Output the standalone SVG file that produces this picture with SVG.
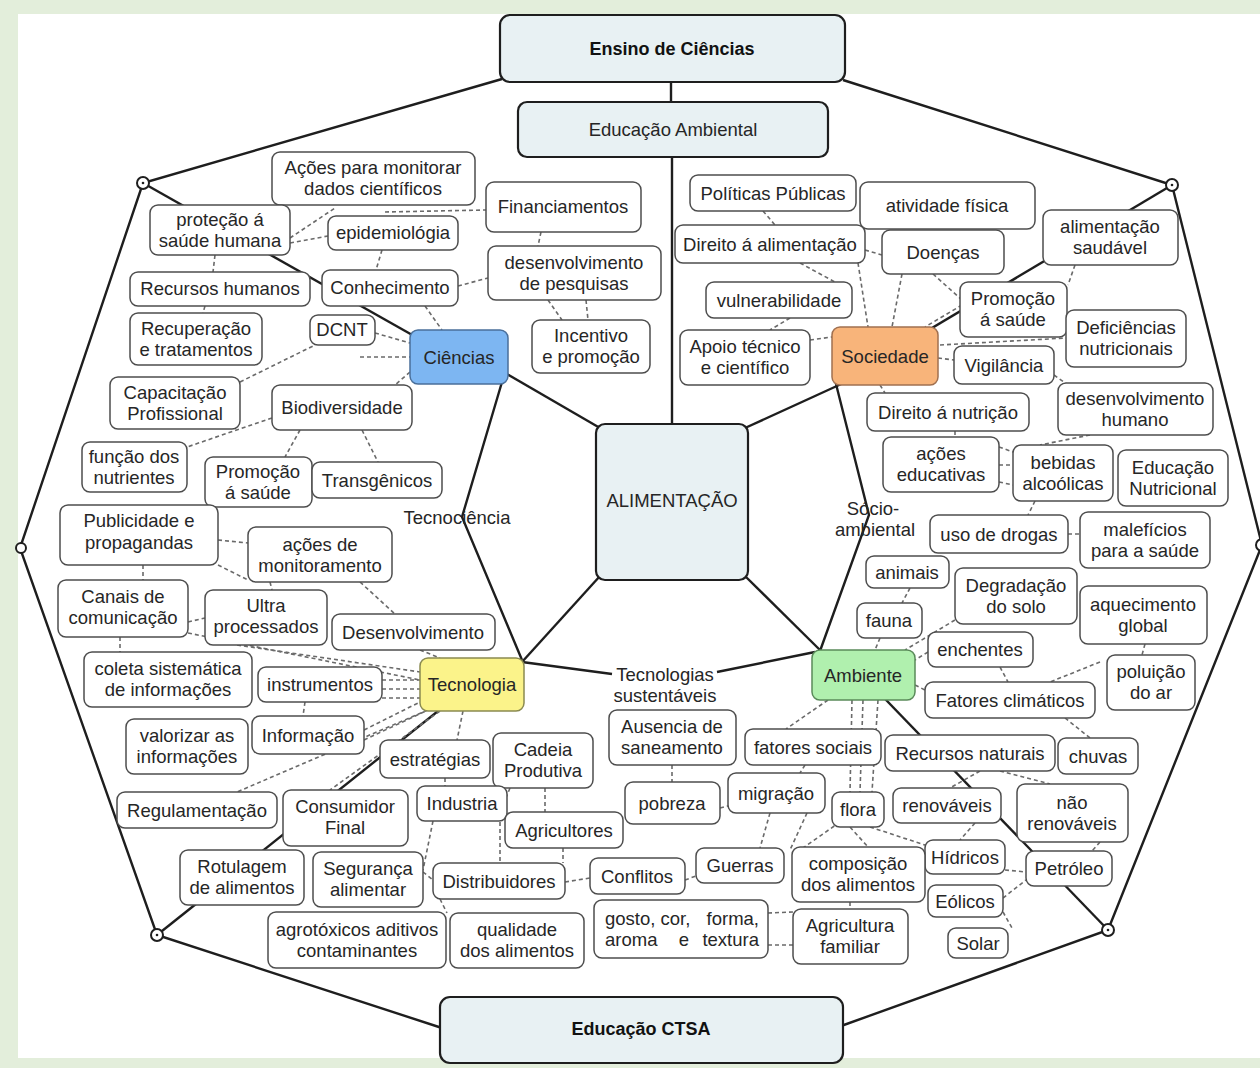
<svg xmlns="http://www.w3.org/2000/svg" width="1260" height="1068" viewBox="0 0 1260 1068">
<style>
.s{stroke:#1e1e1e;stroke-width:2.4;fill:none}
.d{stroke:#6a6a6a;stroke-width:1.6;stroke-dasharray:4 3;fill:none}
.n rect{fill:#fff;stroke:#4d4d4d;stroke-width:1.5}
.h rect{fill:#e8f1f3;stroke:#1e1e1e;stroke-width:2.2}
text{font-family:"Liberation Sans",Arial,sans-serif;font-size:18.5px;fill:#262626;text-anchor:middle}
.bold{font-weight:bold;font-size:18px;fill:#111}
.c{fill:#fff;stroke:#1e1e1e;stroke-width:2}
.st{text-anchor:start}
.en{text-anchor:end}
</style>
<rect x="0" y="0" width="1260" height="1068" fill="#e3eedb"/>
<rect x="18" y="14" width="1242" height="1044" fill="#fff"/>

<g id="connectors">
<polyline class="s" points="502,79 143,183 20,548 157,935 442,1028"/>
<polyline class="s" points="843,80 1172,185 1262,545 1108,930 841,1026"/>
<line class="s" x1="143" y1="183" x2="430" y2="345"/>
<line class="s" x1="1172" y1="185" x2="885" y2="356"/>
<line class="s" x1="157" y1="935" x2="472" y2="684"/>
<line class="s" x1="1108" y1="930" x2="862" y2="675"/>
<line class="s" x1="671" y1="82" x2="671" y2="102"/>
<line class="s" x1="672" y1="157" x2="672" y2="424"/>
<line class="s" x1="500" y1="370" x2="600" y2="428"/>
<line class="s" x1="850" y1="380" x2="745" y2="428"/>
<line class="s" x1="522" y1="662" x2="600" y2="576"/>
<line class="s" x1="822" y1="652" x2="745" y2="576"/>
<polyline class="s" points="502,382 462,517 522,660"/>
<polyline class="s" points="836,384 869,515 820,651"/>
<line class="s" x1="522" y1="662" x2="612" y2="674"/>
<line class="s" x1="717" y1="672" x2="815" y2="652"/>
<line class="d" x1="290" y1="238" x2="335" y2="208"/>
<line class="d" x1="290" y1="243" x2="328" y2="236"/>
<line class="d" x1="385" y1="212" x2="486" y2="210"/>
<line class="d" x1="382" y1="250" x2="376" y2="270"/>
<line class="d" x1="215" y1="255" x2="213" y2="272"/>
<line class="d" x1="205" y1="306" x2="203" y2="313"/>
<line class="d" x1="458" y1="286" x2="488" y2="278"/>
<line class="d" x1="541" y1="232" x2="538" y2="246"/>
<line class="d" x1="548" y1="300" x2="562" y2="320"/>
<line class="d" x1="586" y1="300" x2="588" y2="320"/>
<line class="d" x1="425" y1="306" x2="442" y2="330"/>
<line class="d" x1="375" y1="333" x2="410" y2="343"/>
<line class="d" x1="240" y1="382" x2="315" y2="345"/>
<line class="d" x1="360" y1="357" x2="410" y2="357"/>
<line class="d" x1="410" y1="372" x2="395" y2="385"/>
<line class="d" x1="272" y1="418" x2="187" y2="447"/>
<line class="d" x1="300" y1="430" x2="285" y2="457"/>
<line class="d" x1="362" y1="430" x2="378" y2="462"/>
<line class="d" x1="218" y1="540" x2="248" y2="543"/>
<line class="d" x1="218" y1="565" x2="248" y2="580"/>
<line class="d" x1="270" y1="582" x2="272" y2="590"/>
<line class="d" x1="360" y1="582" x2="395" y2="614"/>
<line class="d" x1="143" y1="565" x2="143" y2="580"/>
<line class="d" x1="188" y1="622" x2="205" y2="618"/>
<line class="d" x1="188" y1="633" x2="420" y2="680"/>
<line class="d" x1="237" y1="645" x2="420" y2="672"/>
<line class="d" x1="420" y1="650" x2="440" y2="658"/>
<line class="d" x1="120" y1="637" x2="120" y2="652"/>
<line class="d" x1="382" y1="680" x2="420" y2="680"/>
<line class="d" x1="382" y1="689" x2="420" y2="689"/>
<line class="d" x1="382" y1="698" x2="420" y2="698"/>
<line class="d" x1="364" y1="730" x2="420" y2="702"/>
<line class="d" x1="364" y1="740" x2="428" y2="710"/>
<line class="d" x1="305" y1="702" x2="303" y2="716"/>
<line class="d" x1="428" y1="710" x2="237" y2="792"/>
<line class="d" x1="440" y1="711" x2="330" y2="790"/>
<line class="d" x1="463" y1="711" x2="457" y2="740"/>
<line class="d" x1="445" y1="778" x2="445" y2="786"/>
<line class="d" x1="510" y1="788" x2="505" y2="800"/>
<line class="d" x1="545" y1="788" x2="545" y2="812"/>
<line class="d" x1="433" y1="821" x2="423" y2="870"/>
<line class="d" x1="500" y1="822" x2="500" y2="863"/>
<line class="d" x1="563" y1="848" x2="563" y2="863"/>
<line class="d" x1="565" y1="882" x2="590" y2="878"/>
<line class="d" x1="423" y1="872" x2="433" y2="880"/>
<line class="d" x1="440" y1="899" x2="447" y2="913"/>
<line class="d" x1="763" y1="211" x2="775" y2="225"/>
<line class="d" x1="800" y1="263" x2="835" y2="282"/>
<line class="d" x1="865" y1="250" x2="882" y2="255"/>
<line class="d" x1="858" y1="263" x2="868" y2="327"/>
<line class="d" x1="902" y1="274" x2="892" y2="327"/>
<line class="d" x1="933" y1="274" x2="962" y2="300"/>
<line class="d" x1="962" y1="305" x2="925" y2="327"/>
<line class="d" x1="790" y1="318" x2="770" y2="330"/>
<line class="d" x1="810" y1="340" x2="832" y2="337"/>
<line class="d" x1="1075" y1="265" x2="1068" y2="285"/>
<line class="d" x1="938" y1="358" x2="954" y2="360"/>
<line class="d" x1="940" y1="345" x2="1066" y2="338"/>
<line class="d" x1="1054" y1="375" x2="1068" y2="385"/>
<line class="d" x1="880" y1="385" x2="885" y2="393"/>
<line class="d" x1="955" y1="431" x2="955" y2="437"/>
<line class="d" x1="1090" y1="435" x2="1040" y2="445"/>
<line class="d" x1="999" y1="447" x2="1013" y2="452"/>
<line class="d" x1="999" y1="465" x2="1013" y2="465"/>
<line class="d" x1="999" y1="482" x2="1013" y2="485"/>
<line class="d" x1="1035" y1="501" x2="1028" y2="515"/>
<line class="d" x1="1068" y1="534" x2="1080" y2="534"/>
<line class="d" x1="910" y1="588" x2="902" y2="603"/>
<line class="d" x1="880" y1="638" x2="875" y2="650"/>
<line class="d" x1="955" y1="620" x2="905" y2="650"/>
<line class="d" x1="928" y1="652" x2="915" y2="660"/>
<line class="d" x1="1000" y1="667" x2="1008" y2="682"/>
<line class="d" x1="1100" y1="662" x2="1050" y2="682"/>
<line class="d" x1="1145" y1="644" x2="1142" y2="655"/>
<line class="d" x1="915" y1="685" x2="925" y2="690"/>
<line class="d" x1="1065" y1="718" x2="1090" y2="738"/>
<line class="d" x1="828" y1="700" x2="786" y2="729"/>
<line class="d" x1="852" y1="700" x2="850" y2="792"/>
<line class="d" x1="863" y1="700" x2="860" y2="792"/>
<line class="d" x1="878" y1="700" x2="872" y2="792"/>
<line class="d" x1="672" y1="765" x2="672" y2="782"/>
<line class="d" x1="805" y1="765" x2="800" y2="773"/>
<line class="d" x1="720" y1="808" x2="732" y2="805"/>
<line class="d" x1="770" y1="813" x2="760" y2="848"/>
<line class="d" x1="807" y1="813" x2="790" y2="850"/>
<line class="d" x1="850" y1="827" x2="868" y2="847"/>
<line class="d" x1="840" y1="822" x2="800" y2="850"/>
<line class="d" x1="870" y1="827" x2="925" y2="845"/>
<line class="d" x1="980" y1="771" x2="950" y2="788"/>
<line class="d" x1="1000" y1="771" x2="1050" y2="784"/>
<line class="d" x1="975" y1="823" x2="960" y2="840"/>
<line class="d" x1="1005" y1="870" x2="1026" y2="872"/>
<line class="d" x1="1100" y1="842" x2="1092" y2="851"/>
<line class="d" x1="1003" y1="898" x2="1026" y2="880"/>
<line class="d" x1="1003" y1="912" x2="1012" y2="928"/>
<line class="d" x1="685" y1="880" x2="696" y2="876"/>
<line class="d" x1="768" y1="913" x2="793" y2="912"/>
<line class="d" x1="768" y1="945" x2="793" y2="945"/>
<line class="d" x1="850" y1="902" x2="850" y2="909"/>
<circle class="c" cx="143" cy="183" r="6"/><circle cx="143" cy="183" r="1.3" fill="#1e1e1e"/>
<circle class="c" cx="1172" cy="185" r="6"/><circle cx="1172" cy="185" r="1.3" fill="#1e1e1e"/>
<circle class="c" cx="157" cy="935" r="6"/><circle cx="157" cy="935" r="1.3" fill="#1e1e1e"/>
<circle class="c" cx="1108" cy="930" r="6"/><circle cx="1108" cy="930" r="1.3" fill="#1e1e1e"/>
<circle class="c" cx="21" cy="548" r="5"/>
<circle class="c" cx="1262" cy="545" r="6"/>
<text x="457" y="524">Tecnociência</text>
<text x="873" y="515">Sócio-</text>
<text x="875" y="536">ambiental</text>
<text x="665" y="681">Tecnologias</text>
<text x="665" y="702">sustentáveis</text>
</g>

<g id="ensino" class="h"><rect x="500" y="15" width="345" height="67" rx="10"/><text class="bold" x="672" y="55">Ensino de Ciências</text></g>
<g id="educacao-ambiental" class="h"><rect x="518" y="102" width="310" height="55" rx="9"/><text x="673" y="136">Educação Ambiental</text></g>
<g id="alimentacao" class="h"><rect x="596" y="424" width="152" height="156" rx="9"/><text x="672" y="507">ALIMENTAÇÃO</text></g>
<g id="ctsa" class="h"><rect x="440" y="997" width="403" height="66" rx="10"/><text class="bold" x="641" y="1035">Educação CTSA</text></g>

<g id="ciencias" class="n"><rect x="410" y="330" width="98" height="54" rx="8" style="fill:#7db6f2;stroke:#4a6f9a"/><text x="459" y="364">Ciências</text></g>
<g id="sociedade" class="n"><rect x="832" y="327" width="106" height="58" rx="8" style="fill:#f8b47a;stroke:#a07050"/><text x="885" y="363">Sociedade</text></g>
<g id="tecnologia" class="n"><rect x="420" y="658" width="104" height="53" rx="8" style="fill:#fbf38a;stroke:#8a8a50"/><text x="472" y="691">Tecnologia</text></g>
<g id="ambiente" class="n"><rect x="812" y="650" width="103" height="50" rx="8" style="fill:#b0f0ae;stroke:#5a8a5a"/><text x="863" y="682">Ambiente</text></g>

<g id="acoes-monitorar" class="n"><rect x="272" y="152" width="203" height="53" rx="8"/><text x="373" y="174">Ações para monitorar<tspan x="373" dy="21">dados científicos</tspan></text></g>
<g id="financiamentos" class="n"><rect x="486" y="182" width="155" height="50" rx="8"/><text x="563" y="213">Financiamentos</text></g>
<g id="protecao" class="n"><rect x="150" y="205" width="140" height="50" rx="8"/><text x="220" y="226">proteção á<tspan x="220" dy="21">saúde humana</tspan></text></g>
<g id="epidemiologia" class="n"><rect x="328" y="216" width="130" height="34" rx="8"/><text x="393" y="239">epidemiológia</text></g>
<g id="desenv-pesquisas" class="n"><rect x="488" y="246" width="173" height="54" rx="8"/><text x="574" y="269">desenvolvimento<tspan x="574" dy="21">de pesquisas</tspan></text></g>
<g id="recursos-humanos" class="n"><rect x="130" y="272" width="180" height="34" rx="8"/><text x="220" y="295">Recursos humanos</text></g>
<g id="conhecimento" class="n"><rect x="322" y="270" width="136" height="36" rx="8"/><text x="390" y="294">Conhecimento</text></g>
<g id="dcnt" class="n"><rect x="310" y="315" width="65" height="30" rx="8"/><text x="342" y="336">DCNT</text></g>
<g id="recuperacao" class="n"><rect x="130" y="313" width="132" height="52" rx="8"/><text x="196" y="335">Recuperação<tspan x="196" dy="21">e tratamentos</tspan></text></g>
<g id="incentivo" class="n"><rect x="532" y="320" width="118" height="53" rx="8"/><text x="591" y="342">Incentivo<tspan x="591" dy="21">e promoção</tspan></text></g>
<g id="capacitacao" class="n"><rect x="110" y="377" width="130" height="52" rx="8"/><text x="175" y="399">Capacitação<tspan x="175" dy="21">Profissional</tspan></text></g>
<g id="biodiversidade" class="n"><rect x="272" y="385" width="140" height="45" rx="8"/><text x="342" y="414">Biodiversidade</text></g>
<g id="funcao-nutrientes" class="n"><rect x="82" y="442" width="105" height="50" rx="8"/><text x="134" y="463">função dos<tspan x="134" dy="21">nutrientes</tspan></text></g>
<g id="promocao-ciencias" class="n"><rect x="205" y="457" width="107" height="50" rx="8"/><text x="258" y="478">Promoção<tspan x="258" dy="21">á saúde</tspan></text></g>
<g id="transgenicos" class="n"><rect x="312" y="462" width="130" height="36" rx="8"/><text x="377" y="487">Transgênicos</text></g>
<g id="publicidade" class="n"><rect x="60" y="505" width="158" height="60" rx="8"/><text x="139" y="527">Publicidade e<tspan x="139" dy="22">propagandas</tspan></text></g>
<g id="acoes-monitoramento" class="n"><rect x="248" y="527" width="144" height="55" rx="8"/><text x="320" y="551">ações de<tspan x="320" dy="21">monitoramento</tspan></text></g>
<g id="canais" class="n"><rect x="58" y="580" width="130" height="57" rx="8"/><text x="123" y="603">Canais de<tspan x="123" dy="21">comunicação</tspan></text></g>
<g id="ultra" class="n"><rect x="205" y="590" width="122" height="55" rx="8"/><text x="266" y="612">Ultra<tspan x="266" dy="21">processados</tspan></text></g>
<g id="desenvolvimento" class="n"><rect x="332" y="614" width="163" height="36" rx="8"/><text x="413" y="639">Desenvolvimento</text></g>
<g id="coleta" class="n"><rect x="84" y="652" width="168" height="55" rx="8"/><text x="168" y="675">coleta sistemática<tspan x="168" dy="21">de informações</tspan></text></g>
<g id="instrumentos" class="n"><rect x="258" y="667" width="124" height="35" rx="8"/><text x="320" y="691">instrumentos</text></g>
<g id="valorizar" class="n"><rect x="126" y="719" width="122" height="55" rx="8"/><text x="187" y="742">valorizar as<tspan x="187" dy="21">informações</tspan></text></g>
<g id="informacao" class="n"><rect x="252" y="716" width="112" height="38" rx="8"/><text x="308" y="742">Informação</text></g>
<g id="estrategias" class="n"><rect x="380" y="740" width="110" height="38" rx="8"/><text x="435" y="766">estratégias</text></g>
<g id="cadeia" class="n"><rect x="493" y="733" width="100" height="55" rx="8"/><text x="543" y="756">Cadeia<tspan x="543" dy="21">Produtiva</tspan></text></g>
<g id="regulamentacao" class="n"><rect x="117" y="792" width="160" height="36" rx="8"/><text x="197" y="817">Regulamentação</text></g>
<g id="consumidor" class="n"><rect x="283" y="790" width="125" height="56" rx="8"/><text x="345" y="813">Consumidor<tspan x="345" dy="21">Final</tspan></text></g>
<g id="industria" class="n"><rect x="417" y="786" width="90" height="35" rx="8"/><text x="462" y="810">Industria</text></g>
<g id="agricultores" class="n"><rect x="505" y="812" width="118" height="36" rx="8"/><text x="564" y="837">Agricultores</text></g>
<g id="rotulagem" class="n"><rect x="180" y="850" width="124" height="55" rx="8"/><text x="242" y="873">Rotulagem<tspan x="242" dy="21">de alimentos</tspan></text></g>
<g id="seguranca" class="n"><rect x="313" y="852" width="110" height="55" rx="8"/><text x="368" y="875">Segurança<tspan x="368" dy="21">alimentar</tspan></text></g>
<g id="distribuidores" class="n"><rect x="433" y="863" width="132" height="36" rx="8"/><text x="499" y="888">Distribuidores</text></g>
<g id="conflitos" class="n"><rect x="590" y="858" width="95" height="36" rx="8"/><text x="637" y="883">Conflitos</text></g>
<g id="agrotoxicos" class="n"><rect x="268" y="912" width="178" height="56" rx="8"/><text x="357" y="936">agrotóxicos aditivos<tspan x="357" dy="21">contaminantes</tspan></text></g>
<g id="qualidade" class="n"><rect x="450" y="913" width="134" height="55" rx="8"/><text x="517" y="936">qualidade<tspan x="517" dy="21">dos alimentos</tspan></text></g>
<g id="gosto" class="n"><rect x="594" y="900" width="174" height="58" rx="8"/><text class="st" x="605" y="925">gosto, cor,</text><text class="en" x="759" y="925">forma,</text><text class="st" x="605" y="946">aroma</text><text x="684" y="946">e</text><text class="en" x="759" y="946">textura</text></g>

<g id="politicas" class="n"><rect x="690" y="175" width="166" height="36" rx="8"/><text x="773" y="200">Políticas Públicas</text></g>
<g id="atividade" class="n"><rect x="860" y="182" width="175" height="47" rx="8"/><text x="947" y="212">atividade física</text></g>
<g id="alim-saudavel" class="n"><rect x="1043" y="210" width="135" height="55" rx="8"/><text x="1110" y="233">alimentação<tspan x="1110" dy="21">saudável</tspan></text></g>
<g id="direito-alimentacao" class="n"><rect x="675" y="225" width="190" height="38" rx="8"/><text x="770" y="251">Direito á alimentação</text></g>
<g id="doencas" class="n"><rect x="882" y="230" width="122" height="44" rx="8"/><text x="943" y="259">Doenças</text></g>
<g id="vulnerabilidade" class="n"><rect x="706" y="282" width="146" height="36" rx="8"/><text x="779" y="307">vulnerabilidade</text></g>
<g id="promocao-sociedade" class="n"><rect x="960" y="282" width="107" height="55" rx="8"/><text x="1013" y="305">Promoção<tspan x="1013" dy="21">á saúde</tspan></text></g>
<g id="deficiencias" class="n"><rect x="1066" y="310" width="120" height="57" rx="8"/><text x="1126" y="334">Deficiências<tspan x="1126" dy="21">nutricionais</tspan></text></g>
<g id="apoio" class="n"><rect x="680" y="330" width="130" height="55" rx="8"/><text x="745" y="353">Apoio técnico<tspan x="745" dy="21">e científico</tspan></text></g>
<g id="vigilancia" class="n"><rect x="954" y="346" width="100" height="38" rx="8"/><text x="1004" y="372">Vigilância</text></g>
<g id="direito-nutricao" class="n"><rect x="867" y="393" width="162" height="38" rx="8"/><text x="948" y="419">Direito á nutrição</text></g>
<g id="desenv-humano" class="n"><rect x="1058" y="383" width="155" height="52" rx="8"/><text x="1135" y="405">desenvolvimento<tspan x="1135" dy="21">humano</tspan></text></g>
<g id="acoes-educativas" class="n"><rect x="883" y="437" width="116" height="55" rx="8"/><text x="941" y="460">ações<tspan x="941" dy="21">educativas</tspan></text></g>
<g id="bebidas" class="n"><rect x="1013" y="445" width="100" height="56" rx="8"/><text x="1063" y="469">bebidas<tspan x="1063" dy="21">alcoólicas</tspan></text></g>
<g id="educ-nutricional" class="n"><rect x="1118" y="450" width="110" height="56" rx="8"/><text x="1173" y="474">Educação<tspan x="1173" dy="21">Nutricional</tspan></text></g>
<g id="uso-drogas" class="n"><rect x="930" y="515" width="138" height="38" rx="8"/><text x="999" y="541">uso de drogas</text></g>
<g id="maleficios" class="n"><rect x="1080" y="512" width="130" height="56" rx="8"/><text x="1145" y="536">malefícios<tspan x="1145" dy="21">para a saúde</tspan></text></g>
<g id="animais" class="n"><rect x="866" y="556" width="83" height="32" rx="8"/><text x="907" y="579">animais</text></g>
<g id="degradacao" class="n"><rect x="955" y="568" width="122" height="56" rx="8"/><text x="1016" y="592">Degradação<tspan x="1016" dy="21">do solo</tspan></text></g>
<g id="aquecimento" class="n"><rect x="1080" y="586" width="127" height="58" rx="8"/><text x="1143" y="611">aquecimento<tspan x="1143" dy="21">global</tspan></text></g>
<g id="fauna" class="n"><rect x="857" y="603" width="65" height="35" rx="8"/><text x="889" y="627">fauna</text></g>
<g id="enchentes" class="n"><rect x="928" y="632" width="105" height="35" rx="8"/><text x="980" y="656">enchentes</text></g>
<g id="poluicao" class="n"><rect x="1107" y="655" width="88" height="55" rx="8"/><text x="1151" y="678">poluição<tspan x="1151" dy="21">do ar</tspan></text></g>
<g id="fatores-climaticos" class="n"><rect x="925" y="682" width="170" height="36" rx="8"/><text x="1010" y="707">Fatores climáticos</text></g>
<g id="ausencia" class="n"><rect x="609" y="710" width="127" height="55" rx="8"/><text x="672" y="733">Ausencia de<tspan x="672" dy="21">saneamento</tspan></text></g>
<g id="fatores-sociais" class="n"><rect x="745" y="729" width="136" height="36" rx="8"/><text x="813" y="754">fatores sociais</text></g>
<g id="recursos-naturais" class="n"><rect x="885" y="735" width="170" height="36" rx="8"/><text x="970" y="760">Recursos naturais</text></g>
<g id="chuvas" class="n"><rect x="1058" y="738" width="80" height="36" rx="8"/><text x="1098" y="763">chuvas</text></g>
<g id="pobreza" class="n"><rect x="625" y="782" width="95" height="42" rx="8"/><text x="672" y="810">pobreza</text></g>
<g id="migracao" class="n"><rect x="728" y="773" width="97" height="40" rx="8"/><text x="776" y="800">migração</text></g>
<g id="flora" class="n"><rect x="832" y="792" width="52" height="35" rx="8"/><text x="858" y="816">flora</text></g>
<g id="renovaveis" class="n"><rect x="893" y="788" width="108" height="35" rx="8"/><text x="947" y="812">renováveis</text></g>
<g id="nao-renovaveis" class="n"><rect x="1017" y="784" width="111" height="58" rx="8"/><text x="1072" y="809">não<tspan x="1072" dy="21">renováveis</tspan></text></g>
<g id="hidricos" class="n"><rect x="925" y="840" width="80" height="34" rx="8"/><text x="965" y="864">Hídricos</text></g>
<g id="guerras" class="n"><rect x="696" y="848" width="88" height="35" rx="8"/><text x="740" y="872">Guerras</text></g>
<g id="composicao" class="n"><rect x="792" y="847" width="133" height="55" rx="8"/><text x="858" y="870">composição<tspan x="858" dy="21">dos alimentos</tspan></text></g>
<g id="petroleo" class="n"><rect x="1026" y="851" width="86" height="35" rx="8"/><text x="1069" y="875">Petróleo</text></g>
<g id="eolicos" class="n"><rect x="928" y="885" width="75" height="32" rx="8"/><text x="965" y="908">Eólicos</text></g>
<g id="solar" class="n"><rect x="948" y="928" width="60" height="30" rx="8"/><text x="978" y="950">Solar</text></g>
<g id="agricultura" class="n"><rect x="793" y="909" width="115" height="55" rx="8"/><text x="850" y="932">Agricultura<tspan x="850" dy="21">familiar</tspan></text></g>
</svg>
